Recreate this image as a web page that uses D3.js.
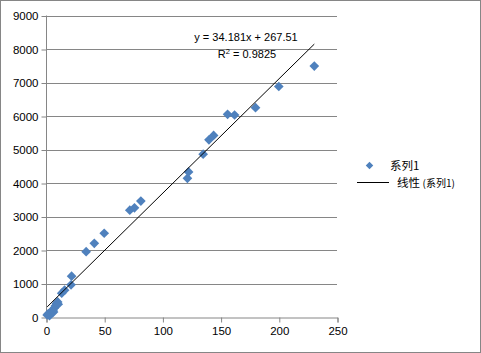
<!DOCTYPE html>
<html><head><meta charset="utf-8">
<script src="https://cdn.jsdelivr.net/npm/d3@7"></script>
<style>body{margin:0;background:#fff}svg{display:block}text{font-family:"Liberation Sans",Arial,sans-serif}</style>
</head><body><svg id="c" width="481" height="353"></svg>
<script>
const xValues = [1, 2, 3, 4, 5, 6, 7, 8, 9, 10, 10.5, 3.5, 6.5, 13.5, 16, 21.5, 22, 34.5, 41.5, 50, 72, 76, 81.5, 121.5, 122.5, 135, 140, 144, 156, 162, 180, 200, 230.5];
const yValues = [60, 100, 40, 150, 120, 200, 260, 330, 400, 450, 380, 80, 150, 710, 800, 960, 1220, 1950, 2200, 2500, 3190, 3260, 3460, 4140, 4330, 4860, 5290, 5420, 6050, 6030, 6250, 6880, 7490];
const xTicks = [0, 50, 100, 150, 200, 250];
const yTicks = [0, 1000, 2000, 3000, 4000, 5000, 6000, 7000, 8000, 9000];
const trendSlope = 34.181, trendIntercept = 267.51;
const eqLabel = "y = 34.181x + 267.51";
const r2Label = "0.9825";
const seriesName = "系列1";
const trendName = "线性";

const svg = d3.select("#c");
svg.append("rect").attr("x",0.5).attr("y",0.5).attr("width",480).attr("height",352)
  .attr("fill","#fff").attr("stroke","#868686");

const x = d3.scaleLinear().domain([0,250]).range([46,337]);
const y = d3.scaleLinear().domain([0,9000]).range([317,15.5]);
const grid = "#868686";

svg.append("g").selectAll("line").data(yTicks.slice(1)).join("line")
  .attr("x1",46).attr("x2",337).attr("y1",d=>Math.round(y(d))+0.5).attr("y2",d=>Math.round(y(d))+0.5)
  .attr("stroke",grid).attr("stroke-width",1);

const yAxis = d3.axisLeft(y).tickValues(yTicks).tickSize(5).tickPadding(3).tickFormat(d3.format("d"));
const gy = svg.append("g").attr("transform","translate(46.5,0.5)").call(yAxis);
const xAxis = d3.axisBottom(x).tickValues(xTicks).tickSize(5).tickPadding(4).tickFormat(d3.format("d"));
const gx = svg.append("g").attr("transform","translate(0.5,317.5)").call(xAxis);
[gx,gy].forEach(g=>{
  g.select(".domain").attr("stroke",grid);
  g.selectAll(".tick line").attr("stroke",grid);
  g.selectAll("text").attr("fill","#000").style("font-size","11.5px").style("font-family","'Liberation Sans',Arial,sans-serif");
});
gy.select(".domain").attr("d","M0,"+(y(9000)-0.5)+"V"+(y(0)-0.5));

const diamond = d3.symbol().type(d3.symbolDiamond2).size(60);
svg.append("g").selectAll("path").data(xValues.map((v,i)=>[v,yValues[i]])).join("path")
  .attr("d",diamond).attr("transform",d=>`translate(${x(d[0])},${y(d[1])})`)
  .attr("fill","#4F81BD");

const xmin = d3.min(xValues), xmax = d3.max(xValues);
svg.append("line").attr("x1",x(xmin)).attr("y1",y(trendSlope*xmin+trendIntercept))
  .attr("x2",x(xmax)).attr("y2",y(trendSlope*xmax+trendIntercept))
  .attr("stroke","#000").attr("stroke-width",1);

svg.append("text").attr("x",246).attr("y",41).attr("text-anchor","middle").style("font-size","11px").text(eqLabel);
const r2 = svg.append("text").attr("x",247).attr("y",57.5).attr("text-anchor","middle").style("font-size","11px");
r2.append("tspan").text("R");
r2.append("tspan").attr("dy",-4).style("font-size","7.5px").text("2");
r2.append("tspan").attr("dy",4).text(" = " + r2Label);

svg.append("path").attr("d",d3.symbol().type(d3.symbolDiamond2).size(36)).attr("transform","translate(369.5,165.5)").attr("fill","#4F81BD");
svg.append("text").attr("x",390).attr("y",170).style("font-size","11.5px").style("font-family","'Noto Sans CJK SC',sans-serif").text(seriesName);
svg.append("line").attr("x1",357).attr("x2",389).attr("y1",182.5).attr("y2",182.5).attr("stroke","#000").attr("stroke-width",1);
const lt = svg.append("text").attr("x",397).attr("y",187).style("font-size","11.5px").style("font-family","'Noto Sans CJK SC',sans-serif");
lt.append("tspan").text(trendName + " ");
lt.append("tspan").style("font-size","10px").text("(" + seriesName + ")");
</script></body></html>
